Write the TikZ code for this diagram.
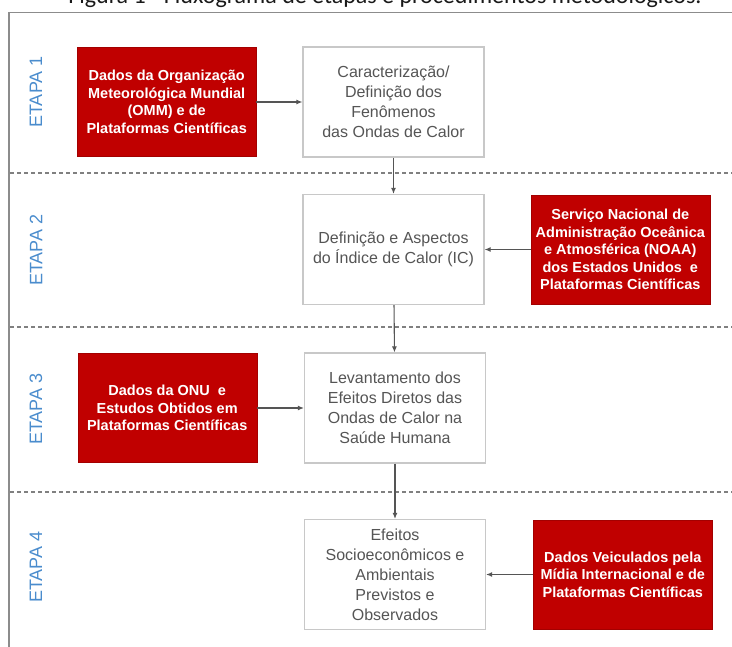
\documentclass[tikz,border=0pt]{standalone}
\usepackage{fontspec}
\setmainfont{Liberation Sans}
\newfontfamily\legendafont{Carlito}
\usepackage{xcolor}
\usetikzlibrary{arrows.meta,positioning}
\definecolor{fonteRed}{RGB}{192,0,0}
\definecolor{etapaBlue}{RGB}{74,140,205}
\definecolor{bordaGray}{RGB}{200,200,200}
\definecolor{textoGray}{RGB}{85,85,85}

\begin{document}
\begin{tikzpicture}[x=1pt,y=-1pt,
					fonte/.style={draw=fonteRed!85!black, fill=fonteRed, text=white, align=center, inner sep=1pt,
						minimum width=179pt, minimum height=109pt, font=\fontsize{14.5}{17.5}\selectfont\bfseries},
					passo/.style={draw=bordaGray, line width=1.2pt, fill=white, text=textoGray, align=center, inner sep=1pt,
						minimum width=181pt, minimum height=110pt, font=\fontsize{16}{20}\selectfont},
					rotulo/.style={rotate=90, text=etapaBlue, font=\fontsize{18}{20}\selectfont},
					seta/.style={draw=textoGray, line width=1.1pt, -{Latex[length=6pt,width=5pt]}},
					divisa/.style={draw=gray, line width=1.1pt, dash pattern=on 4pt off 3pt}]
				\useasboundingbox (0,0) rectangle (732,647);
				\node[anchor=base, text=black!90, font=\legendafont\fontsize{24}{28}\selectfont] (titulo) at (385,4)
					{Figura 1 - Fluxograma de etapas e procedimentos metodológicos.};
				\draw[draw=gray!90, line width=1.4pt] (732,12.5) -- (9,12.5) -- (9,647);
				\foreach \y in {173,327,492}
					\draw[divisa] (10,\y) -- (732,\y);
				\foreach \n/\y in {1/92,2/250,3/409,4/567}
					\node[rotulo] (etapa\n) at (36,\y) {ETAPA \n};
				\node[passo] (carac) at (393.5,102) {Caracterização/\\Definição dos\\Fenômenos\\das Ondas de Calor};
				\node[passo] (indice) at (393.5,249.5) {Definição e Aspectos\\do Índice de Calor (IC)};
				\node[passo] (efeitos) at (395,408) {Levantamento dos\\Efeitos Diretos das\\Ondas de Calor na\\Saúde Humana};
				\node[passo] (socio) at (395,574.5) {Efeitos\\Socioeconômicos e\\Ambientais\\Previstos e\\Observados};
				\node[fonte, left=46pt of carac] (omm) {Dados da Organização\\Meteorológica Mundial\\(OMM) e de\\Plataformas Científicas};
				\node[fonte, right=46pt of indice] (noaa) {Serviço Nacional de\\Administração Oceânica\\e Atmosférica (NOAA)\\dos Estados Unidos~ e\\Plataformas Científicas};
				\node[fonte, left=47pt of efeitos] (onu) {Dados da ONU~ e\\Estudos Obtidos em\\Plataformas Científicas};
				\node[fonte, right=47pt of socio] (midia) {Dados Veiculados pela\\Mídia Internacional e de\\Plataformas Científicas};
				\draw[seta] (omm) -- (carac);
				\draw[seta] (noaa) -- (indice);
				\draw[seta] (onu) -- (efeitos);
				\draw[seta] (midia) -- (socio);
				\draw[seta] (carac) -- (indice);
				\draw[seta] (indice) -- (efeitos);
				\draw[seta] (efeitos) -- (socio);
			\end{tikzpicture}
\end{document}
